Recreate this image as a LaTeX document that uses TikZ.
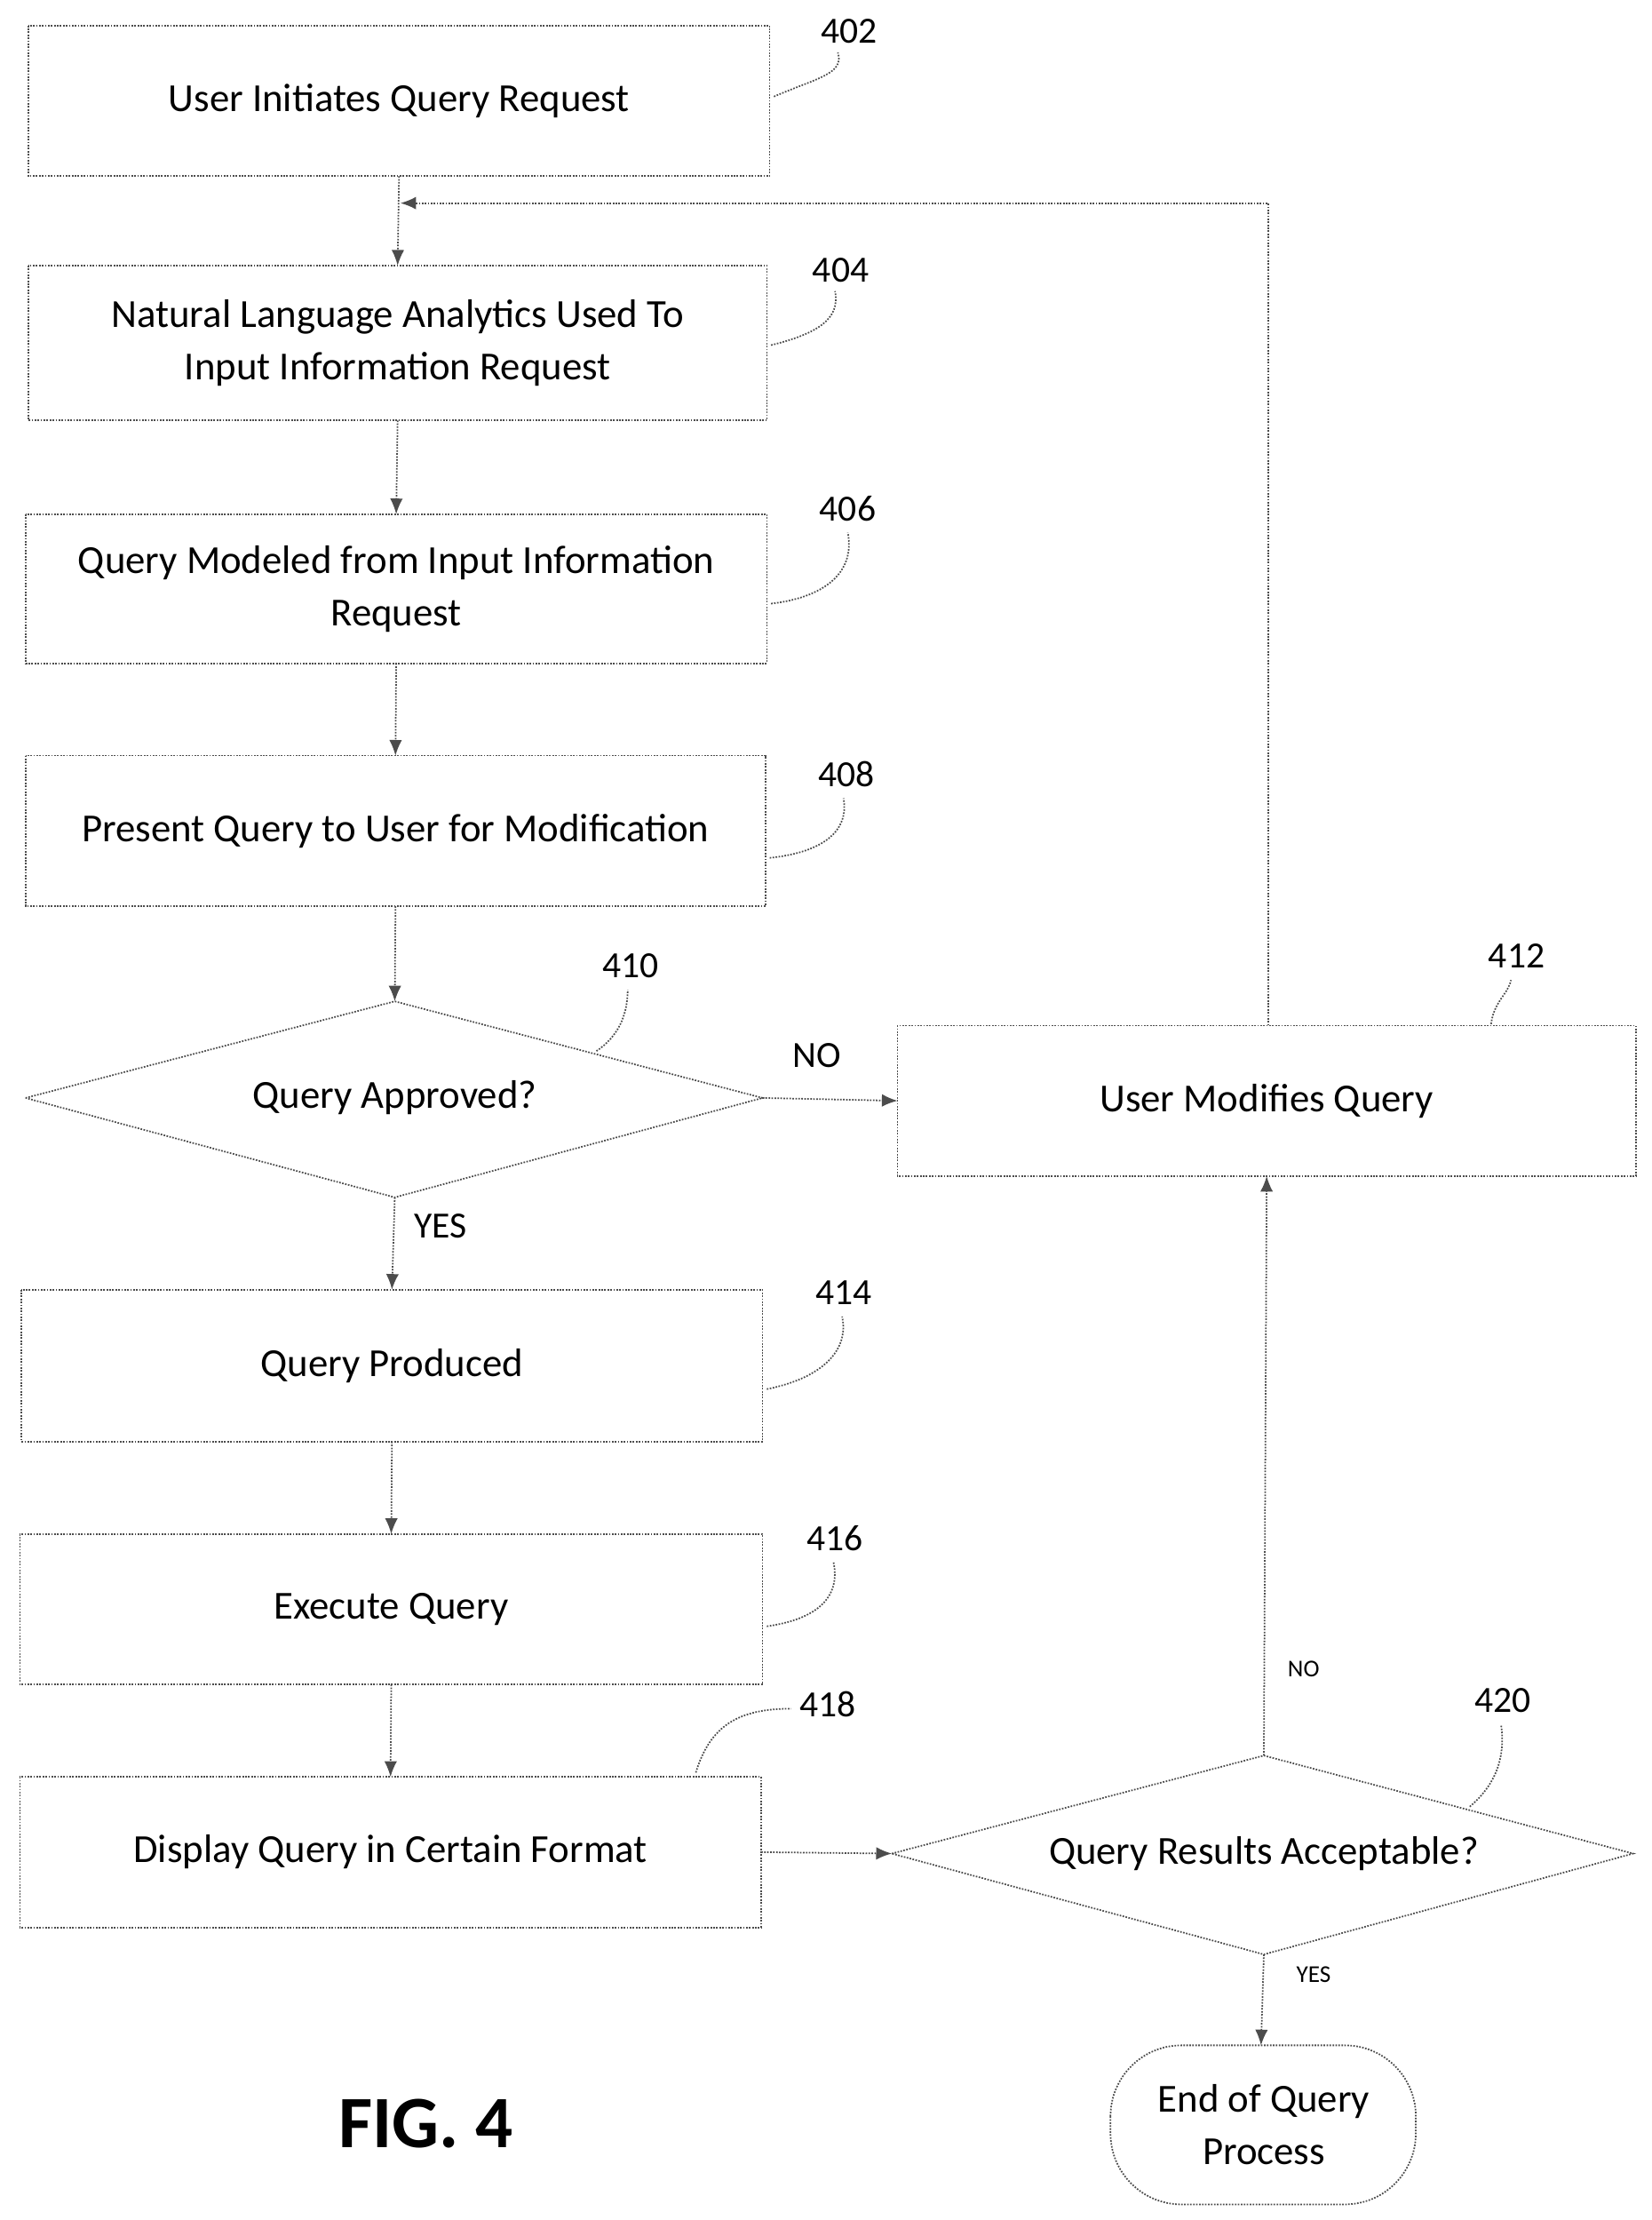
\documentclass[tikz,border=0pt]{standalone}
\usepackage{fontspec}
\setmainfont{Carlito}
\usetikzlibrary{shapes.geometric,arrows.meta}
\begin{document}
\begin{tikzpicture}[x=1pt,y=-1pt,
  line/.style={densely dotted,line width=1.1pt,draw=black!70},
  arr/.style={line,-{Latex[length=11pt,width=9pt]}},
  txt/.style={font=\fontsize{28}{37}\selectfont,align=center},
  lbl/.style={font=\fontsize{26}{30}\selectfont},
  sm/.style={font=\fontsize{17}{20}\selectfont}]
\useasboundingbox (0,0) rectangle (1163,1563);
\def\bx#1#2#3#4#5#6{\draw[line] (#2,#4) rectangle (#3,#5); \node[txt] (#1) at ({(#2+#3)/2},{(#4+#5)/2}) {#6};
 \coordinate (#1t) at ({(#2+#3)/2},#4); \coordinate (#1b) at ({(#2+#3)/2},#5);
 \coordinate (#1l) at (#2,{(#4+#5)/2}); \coordinate (#1r) at (#3,{(#4+#5)/2});}
\bx{a}{20}{542}{18}{124}{User Initiates Query Request}
\bx{b}{20}{540}{187}{296}{Natural Language Analytics Used To\\Input Information Request}
\bx{c}{18}{540}{362}{467}{Query Modeled from Input Information\\Request}
\bx{d}{18}{539}{532}{638}{Present Query to User for Modification}
\bx{m}{632}{1152}{722}{828}{User Modifies Query}
\bx{p}{15}{537}{908}{1015}{Query Produced}
\bx{e}{14}{537}{1080}{1186}{Execute Query}
\bx{f}{14}{536}{1251}{1357}{Display Query in Certain Format}
\draw[line] (18,773) coordinate (gl) -- (278,705) coordinate (gt) -- (537,773) coordinate (gr) -- (278,843) coordinate (gb) -- cycle;
\node[txt] (g) at (278,773) {Query Approved?};
\draw[line] (628,1305) coordinate (hl) -- (890,1236) coordinate (ht) -- (1150,1305) coordinate (hr) -- (890,1376) coordinate (hb) -- cycle;
\node[txt] (h) at (890,1305) {Query Results Acceptable?};
\draw[line,rounded corners=50pt] (782,1440) rectangle (997,1552);
\node[txt] (z) at (890,1496) {End of Query\\Process};
\coordinate (zt) at (888,1440);
% arrows
\draw[arr] (ab) -- (bt);
\draw[arr] (bb) -- (ct);
\draw[arr] (cb) -- (dt);
\draw[arr] (db) -- (gt);
\draw[arr] (gb) -- (pt);
\draw[arr] (pb) -- (et);
\draw[arr] (eb) -- (ft);
\draw[arr] (gr) -- (ml);
\draw[arr] (fr) -- (hl);
\draw[arr] (ht) -- (mb);
\draw[arr] (hb) -- (zt);
\coordinate (j) at (282,143);
\draw[arr] (893,722) |- (j);
% labels
\node[lbl] at (575,743) {NO};
\node[lbl] at (310,863) {YES};
\node[sm] at (918,1175) {NO};
\node[sm] at (925,1390) {YES};
\node[lbl] (n402) at (598,22) {402};
\node[lbl] (n404) at (592,190) {404};
\node[lbl] (n406) at (597,358) {406};
\node[lbl] (n408) at (596,545) {408};
\node[lbl] (n410) at (444,680) {410};
\node[lbl] (n412) at (1068,673) {412};
\node[lbl] (n414) at (594,910) {414};
\node[lbl] (n416) at (588,1083) {416};
\node[lbl] (n418) at (583,1200) {418};
\node[lbl] (n420) at (1058,1197) {420};
\draw[line] (545,68) .. controls (575,55) and (595,52) .. (590,37);
\draw[line] (543,243) .. controls (575,235) and (592,225) .. (588,205);
\draw[line] (543,425) .. controls (585,420) and (602,400) .. (597,375);
\draw[line] (542,604) .. controls (580,600) and (598,585) .. (594,562);
\draw[line] (420,740) .. controls (435,730) and (442,715) .. (442,697);
\draw[line] (1050,721) .. controls (1052,705) and (1062,700) .. (1064,690);
\draw[line] (540,978) .. controls (580,970) and (598,950) .. (593,927);
\draw[line] (540,1145) .. controls (575,1140) and (592,1125) .. (587,1100);
\draw[line] (490,1248) .. controls (500,1215) and (520,1203) .. (557,1203);
\draw[line] (1035,1272) .. controls (1055,1255) and (1060,1235) .. (1057,1214);
\node[font=\bfseries\fontsize{52}{58}\selectfont] (fig) at (300,1495) {FIG. 4};
\end{tikzpicture}
\end{document}
